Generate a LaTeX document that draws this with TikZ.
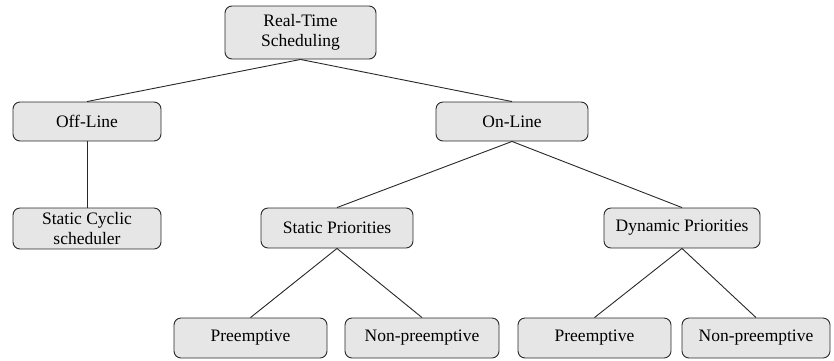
\documentclass[tikz,border=0pt]{standalone}
\usepackage{fontspec}
\setmainfont{Liberation Serif}
\definecolor{boxgray}{RGB}{230,230,230}
\definecolor{edgegray}{RGB}{40,40,40}
\begin{document}
\begin{tikzpicture}[x=1pt,y=-1pt,
  box/.style={draw=edgegray, fill=boxgray, rounded corners=7pt, line width=0.9pt,
    minimum width=150pt, minimum height=40pt, inner sep=0pt, align=center,
    font=\fontsize{17.5}{20}\selectfont},
  link/.style={draw=edgegray, line width=0.9pt}]
\useasboundingbox (0,0) rectangle (834,360);

% root
\node[box, minimum width=151pt, minimum height=53pt] (rt) at (300.5,32.5) {Real-Time\\Scheduling};

% first level
\node[box, minimum width=148pt, minimum height=39pt] (off) at (87,121.5) {Off-Line};
\node[box, minimum width=152pt, minimum height=39pt] (on) at (512,121.5) {On-Line};

% second level
\node[box, minimum width=148pt, minimum height=41pt] (sc) at (87,228.5) {Static Cyclic\\scheduler};
\node[box, minimum width=152pt] (sp) at (337,228) {Static Priorities};
\node[box, minimum width=156pt] (dp) at (682,228) {Dynamic Priorities};

% leaves
\node[box, minimum width=153pt] (p1) at (250.5,338) {Preemptive};
\node[box, minimum width=154pt] (n1) at (422,338) {Non-preemptive};
\node[box, minimum width=153pt] (p2) at (594.5,338) {Preemptive};
\node[box, minimum width=148pt] (n2) at (756,338) {Non-preemptive};

% connectors
\draw[link] (rt.south) -- (off.north);
\draw[link] (rt.south) -- (on.north);
\draw[link] (off.south) -- (sc.north);
\draw[link] (on.south) -- (sp.north);
\draw[link] (on.south) -- (dp.north);
\draw[link] (sp.south) -- (p1.north);
\draw[link] (sp.south) -- (n1.north);
\draw[link] (dp.south) -- (p2.north);
\draw[link] (dp.south) -- (n2.north);
\end{tikzpicture}
\end{document}
